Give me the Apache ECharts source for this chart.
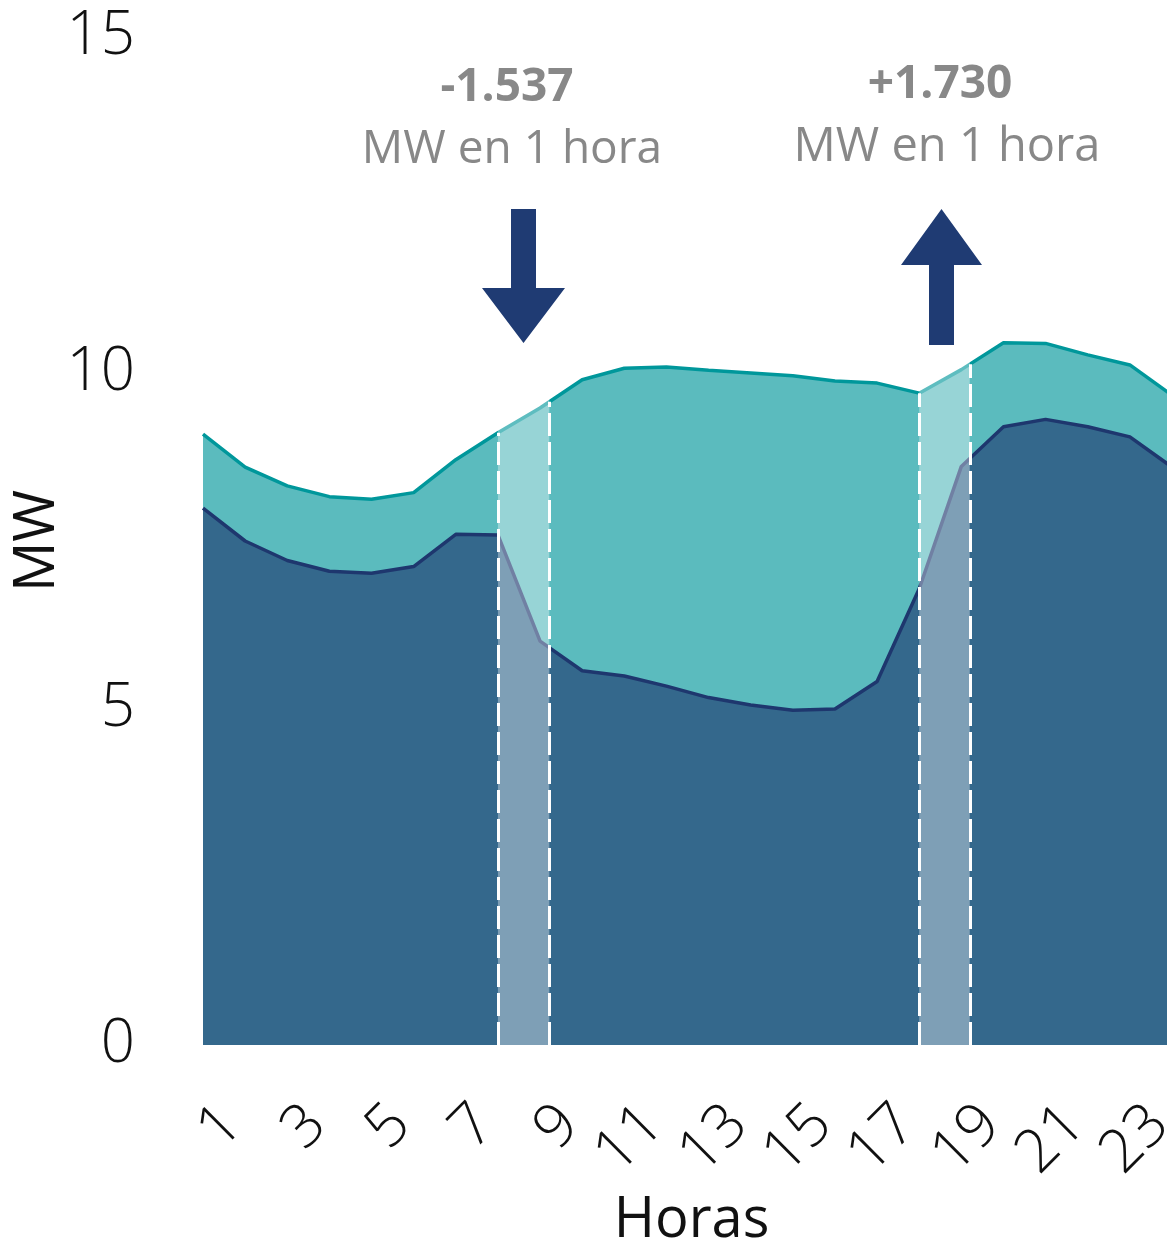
<!DOCTYPE html>
<html>
<head>
<meta charset="utf-8">
<script src="https://cdn.jsdelivr.net/npm/echarts@6/dist/echarts.min.js"></script>
<style>
  html, body { margin: 0; padding: 0; background: #ffffff; }
  #chart { width: 1167px; height: 1242px; }
</style>
</head>
<body>
<div id="chart"></div>
<script>
// ---- data ----
const hours = ['1','2','3','4','5','6','7','8','9','10','11','12','13','14','15','16','17','18','19','20','21','22','23','24'];
const demand = [9.09, 8.60, 8.32, 8.16, 8.12, 8.22, 8.71, 9.11, 9.48, 9.90, 10.07, 10.09, 10.04, 10.00, 9.96, 9.88, 9.85, 9.70, 10.05, 10.45, 10.44, 10.27, 10.12, 9.67];
const netDemand = [7.99, 7.50, 7.21, 7.05, 7.02, 7.12, 7.60, 7.59, 6.01, 5.57, 5.49, 5.34, 5.17, 5.06, 4.98, 5.00, 5.41, 6.79, 8.61, 9.20, 9.31, 9.20, 9.05, 8.60];
const xTickLabels = ['1','3','5','7','9','11','13','15','17','19','21','23'];
const bands = [[8, 9.22], [18, 19.2]];
const rampValues = ['-1.537', '+1.730'];
const rampUnit = 'MW en 1 hora';
const yTicks = [0, 5, 10, 15];

// linear interpolation of the demand curve at fractional hour
function demandAt(h) {
  const i = Math.floor(h) - 1;
  const f = h - Math.floor(h);
  if (i >= demand.length - 1) return demand[demand.length - 1];
  return demand[i] + f * (demand[i + 1] - demand[i]);
}

const FONT = '"Open Sans", "Noto Sans", sans-serif';
const chart = echarts.init(document.getElementById('chart'), null, { renderer: 'canvas' });

const markLineData = [];
bands.forEach(b => {
  b.forEach(x => {
    markLineData.push([{ coord: [x, 0] }, { coord: [x, demandAt(x)] }]);
  });
});

chart.setOption({
  animation: false,
  backgroundColor: '#ffffff',
  grid: { left: 203, right: -5, top: 37, bottom: 197, containLabel: false, outerBoundsMode: 'none' },
  xAxis: [
    {
      type: 'category',
      data: hours,
      boundaryGap: false,
      axisLine: { show: false },
      axisTick: { show: false },
      splitLine: { show: false },
      axisLabel: {
        interval: 0,
        rotate: 45,
        margin: 100,
        hideOverlap: false,
        showMinLabel: true,
        showMaxLabel: true,
        lineHeight: 46,
        padding: [0, -42, 0, 0],
        color: '#111111',
        fontFamily: FONT,
        fontWeight: 300,
        fontSize: 60,
        formatter: v => (xTickLabels.indexOf(v) >= 0 ? v : '')
      },
      name: 'Horas',
      nameLocation: 'middle',
      nameGap: 148,
      nameMoveOverlap: false,
      nameTextStyle: { color: '#111111', fontFamily: FONT, fontSize: 56, fontWeight: 400, padding: [0, 0, 0, 8] }
    },
    {
      type: 'value',
      min: 1,
      max: 24,
      show: false
    }
  ],
  yAxis: {
    type: 'value',
    min: 0,
    max: 15,
    interval: 5,
    axisLine: { show: false },
    axisTick: { show: false },
    splitLine: { show: false },
    axisLabel: {
      margin: 68,
      color: '#111111',
      fontFamily: FONT,
      fontWeight: 300,
      fontSize: 60,
      formatter: v => (yTicks.indexOf(v) >= 0 ? String(v) : '')
    },
    name: 'MW',
    nameLocation: 'middle',
    nameRotate: 90,
    nameGap: 137,
    nameMoveOverlap: false,
    nameTextStyle: { color: '#111111', fontFamily: FONT, fontSize: 56, fontWeight: 400 }
  },
  series: [
    {
      name: 'Demanda',
      type: 'line',
      data: demand,
      symbol: 'none',
      z: 2,
      lineStyle: { color: '#00979b', width: 3.5 },
      areaStyle: { color: '#5bbbbe', opacity: 1 }
    },
    {
      name: 'Demanda neta',
      type: 'line',
      data: netDemand,
      symbol: 'none',
      z: 3,
      lineStyle: { color: '#1e376e', width: 3.5 },
      areaStyle: { color: '#34688c', opacity: 1 }
    },
    {
      name: 'bands',
      type: 'line',
      xAxisIndex: 1,
      yAxisIndex: 0,
      data: [],
      z: 10,
      markArea: {
        silent: true,
        z: 10,
        itemStyle: { color: 'rgba(255,255,255,0.37)' },
        data: bands.map(b => [{ xAxis: b[0], yAxis: 0 }, { xAxis: b[1], yAxis: 15 }])
      },
      markLine: {
        silent: true,
        z: 11,
        symbol: ['none', 'none'],
        label: { show: false },
        lineStyle: { color: '#ffffff', width: 3, type: [23, 6], opacity: 1 },
        data: markLineData
      }
    }
  ],
  graphic: [
    { type: 'polygon', z: 100, shape: { points: [[511,209],[536,209],[536,288],[565,288],[523.5,343],[482,288],[511,288]] }, style: { fill: '#1f3b73' } },
    { type: 'polygon', z: 100, shape: { points: [[929,345],[954,345],[954,265],[982,265],[941.5,209],[901,265],[929,265]] }, style: { fill: '#1f3b73' } },
    { type: 'text', z: 100, x: 507, y: 88, style: { text: rampValues[0], fill: '#888888', font: 'bold 46px ' + FONT, align: 'center', verticalAlign: 'middle' } },
    { type: 'text', z: 100, x: 512, y: 150, style: { text: rampUnit, fill: '#888888', font: '46px ' + FONT, align: 'center', verticalAlign: 'middle' } },
    { type: 'text', z: 100, x: 940, y: 85, style: { text: rampValues[1], fill: '#888888', font: 'bold 46px ' + FONT, align: 'center', verticalAlign: 'middle' } },
    { type: 'text', z: 100, x: 947, y: 148, style: { text: rampUnit, fill: '#888888', font: '47px ' + FONT, align: 'center', verticalAlign: 'middle' } }
  ]
});
</script>
</body>
</html>
